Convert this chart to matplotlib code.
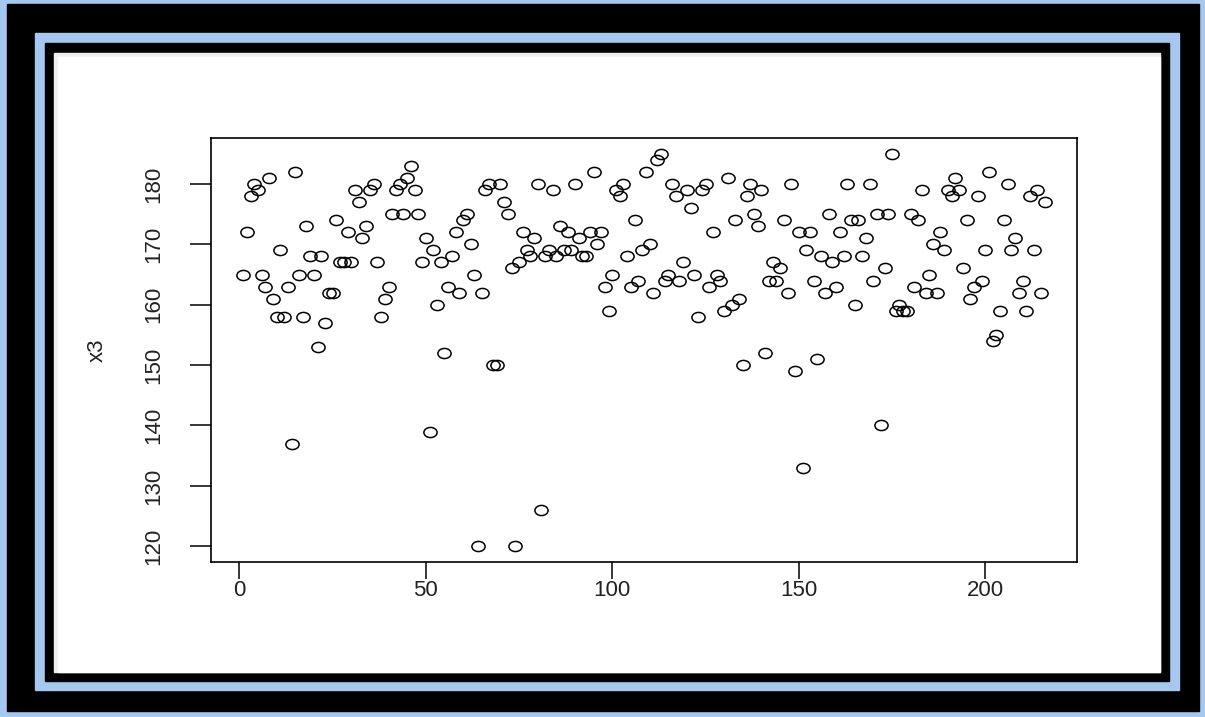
import matplotlib
matplotlib.use('Agg')
import matplotlib.pyplot as plt
from matplotlib.patches import Rectangle
from matplotlib.path import Path
from matplotlib.transforms import Affine2D

plt.rcParams["font.family"] = ["Liberation Sans", "DejaVu Sans"]

# x3 values, plotted against their index (R plot(x3))
x3 = [165, 172, 178, 180, 179, 165, 163, 181, 161, 158,
      169, 158, 163, 137, 182, 165, 158, 173, 168, 165,
      153, 168, 157, 162, 162, 174, 167, 167, 172, 167,
      179, 177, 171, 173, 179, 180, 167, 158, 161, 163,
      175, 179, 180, 175, 181, 183, 179, 175, 167, 171,
      139, 169, 160, 167, 152, 163, 168, 172, 162, 174,
      175, 170, 165, 120, 162, 179, 180, 150, 150, 180,
      177, 175, 166, 120, 167, 172, 169, 168, 171, 180,
      126, 168, 169, 179, 168, 173, 169, 172, 169, 180,
      171, 168, 168, 172, 182, 170, 172, 163, 159, 165,
      179, 178, 180, 168, 163, 174, 164, 169, 182, 170,
      162, 184, 185, 164, 165, 180, 178, 164, 167, 179,
      176, 165, 158, 179, 180, 163, 172, 165, 164, 159,
      181, 160, 174, 161, 150, 178, 180, 175, 173, 179,
      152, 164, 167, 164, 166, 174, 162, 180, 149, 172,
      133, 169, 172, 164, 151, 168, 162, 175, 167, 163,
      172, 168, 180, 174, 160, 174, 168, 171, 180, 164,
      175, 140, 166, 175, 185, 159, 160, 159, 159, 175,
      163, 174, 179, 162, 165, 170, 162, 172, 169, 179,
      178, 181, 179, 166, 174, 161, 163, 178, 164, 169,
      182, 154, 155, 159, 174, 180, 169, 171, 162, 164,
      159, 178, 169, 179, 162, 177]
index = list(range(1, len(x3) + 1))
x_ticks = [0, 50, 100, 150, 200]
y_ticks = [120, 130, 140, 150, 160, 170, 180]

W, H = 1205, 717
fig = plt.figure(figsize=(W / 100, H / 100), dpi=100)
fig.patch.set_facecolor('#a6c8f0')


def frame(x0, y0, x1, y1, color):
    fig.patches.append(Rectangle((x0 / W, 1 - y1 / H), (x1 - x0) / W, (y1 - y0) / H,
                                 transform=fig.transFigure, color=color, zorder=-5))


# picture frame around the R plot
frame(7, 4, 1199, 711, 'black')
frame(35, 33, 1179, 690, '#a6c8f0')
frame(45, 43, 1169, 681, 'black')
frame(54, 53, 1160, 672, '#efefef')
frame(58, 57, 1160, 672, 'white')

ax = fig.add_axes([211 / W, 1 - 562 / H, (1077 - 211) / W, (562 - 138) / H])
ax.set_zorder(2)
ax.set_facecolor('white')

ellipse = Path.unit_circle().transformed(Affine2D().scale(1.3, 1.0))
ax.plot(index, x3, linestyle='none', marker=ellipse, markersize=9.5,
        markerfacecolor='none', markeredgecolor='black', markeredgewidth=1.1)

n = len(x3)
pad = 0.04 * (n - 1)
ax.set_xlim(1 - pad, n + pad)
ypad = 0.04 * (max(x3) - min(x3))
ax.set_ylim(min(x3) - ypad, max(x3) + ypad)

ax.set_xticks(x_ticks)
ax.set_yticks(y_ticks)
ax.set_xticklabels([str(t) for t in x_ticks])
ax.set_yticklabels([str(t) for t in y_ticks], rotation=90, va='center')
ax.tick_params(width=1.1, labelsize=16, color='black', labelcolor='#222222')
ax.tick_params(axis='x', length=12, pad=1)
ax.tick_params(axis='y', length=15, pad=19)
for s in ax.spines.values():
    s.set_linewidth(1.2)
    s.set_color('black')
ax.set_ylabel('x3', fontsize=16, labelpad=25, color='#222222')

fig.savefig('out.png', dpi=100, facecolor=fig.get_facecolor())
